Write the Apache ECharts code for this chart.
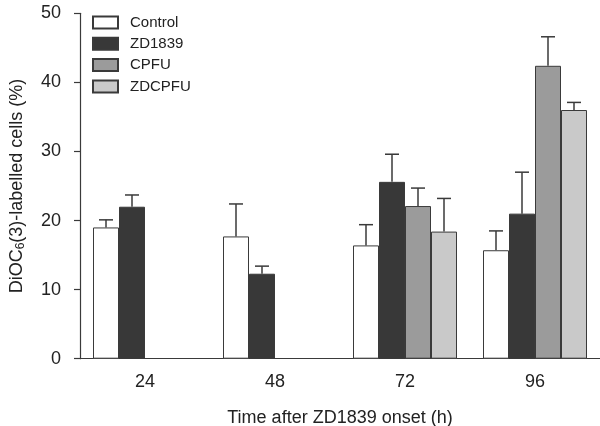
<!DOCTYPE html>
<html>
<head>
<meta charset="utf-8">
<script src="https://cdn.jsdelivr.net/npm/echarts@6/dist/echarts.min.js"></script>
<style>html,body{margin:0;padding:0;background:#fff}#c{width:600px;height:426px}</style>
</head>
<body>
<div id="c"></div>
<script>
const categories = ['24', '48', '72', '96'];
const seriesNames = ['Control', 'ZD1839', 'CPFU', 'ZDCPFU'];
const control = [19.0, 17.7, 16.4, 15.7];
const controlErr = [1.1, 4.7, 3.0, 2.8];
const zd1839 = [22.0, 12.3, 25.6, 21.0];
const zd1839Err = [1.7, 1.1, 4.0, 6.0];
const cpfu = [null, null, 22.1, 42.4];
const cpfuErr = [null, null, 2.6, 4.2];
const zdcpfu = [null, null, 18.4, 36.0];
const zdcpfuErr = [null, null, 4.8, 1.1];
const yTicks = [0, 10, 20, 30, 40, 50];

const values = [control, zd1839, cpfu, zdcpfu];
const errs = [controlErr, zd1839Err, cpfuErr, zdcpfuErr];
const colors = ['#ffffff', '#383838', '#9b9b9b', '#c9c9c9'];
const FONT = 'Liberation Sans, Arial, Helvetica, sans-serif';
const nSeries = 4;

const series = [];
values.forEach((vals, i) => {
  series.push({
    name: seriesNames[i],
    type: 'bar',
    data: vals,
    barGap: '0%',
    barCategoryGap: '20%',
    itemStyle: { color: colors[i], borderColor: '#3a3a3a', borderWidth: 1 },
    emphasis: { disabled: true }
  });
});
values.forEach((vals, i) => {
  const data = [];
  vals.forEach((v, k) => { if (v != null) data.push([k, v, v + errs[i][k]]); });
  series.push({
    type: 'custom',
    silent: true,
    z: 1,
    data: data,
    encode: { x: 0, y: [1, 2] },
    renderItem: function (params, api) {
      const base = api.coord([api.value(0), api.value(1)]);
      const top = api.coord([api.value(0), api.value(2)]);
      const band = api.size([1, 0])[0];
      const bw = band * 0.8 / nSeries;
      const cx = base[0] + (i - (nSeries - 1) / 2) * bw;
      const half = 7;
      const st = { stroke: '#3a3a3a', lineWidth: 1.5 };
      return {
        type: 'group',
        children: [
          { type: 'line', shape: { x1: cx, y1: base[1], x2: cx, y2: top[1] }, style: st },
          { type: 'line', shape: { x1: cx - half, y1: top[1], x2: cx + half, y2: top[1] }, style: st }
        ]
      };
    }
  });
});

const chart = echarts.init(document.getElementById('c'), null, { renderer: 'canvas' });
chart.setOption({
  animation: false,
  backgroundColor: '#ffffff',
  textStyle: { fontFamily: FONT },
  grid: { left: 80, right: 0, top: 13.3, bottom: 67.3, containLabel: false, outerBoundsMode: 'none' },
  legend: {
    data: seriesNames.map(n => ({ name: n, icon: 'rect' })),
    orient: 'vertical',
    left: 87,
    top: 10,
    itemWidth: 25,
    itemHeight: 12,
    itemGap: 6.3,
    selectedMode: false,
    textStyle: { fontFamily: FONT, fontSize: 15, color: '#222', lineHeight: 15, padding: [0, 0, 0, 7] }
  },
  xAxis: {
    type: 'category',
    data: categories,
    name: 'Time after ZD1839 onset (h)',
    nameLocation: 'middle',
    nameGap: 50,
    nameTextStyle: { fontFamily: FONT, fontSize: 18, color: '#222' },
    axisLine: { lineStyle: { color: '#3a3a3a', width: 1.2 } },
    axisTick: { show: false },
    axisLabel: { fontFamily: FONT, fontSize: 18, color: '#222', margin: 14 }
  },
  yAxis: {
    type: 'value',
    min: 0,
    max: 50,
    interval: 10,
    name: 'DiOC{sub|6}(3)-labelled cells (%)',
    nameLocation: 'middle',
    nameGap: 53,
    nameTextStyle: {
      fontFamily: FONT, fontSize: 18, color: '#222',
      rich: { sub: { fontFamily: FONT, fontSize: 12, color: '#222', verticalAlign: 'bottom', padding: [8, 0, 0, 0] } }
    },
    axisLine: { show: true, lineStyle: { color: '#3a3a3a', width: 1.2 } },
    axisTick: { show: true, inside: false, length: 6, lineStyle: { color: '#3a3a3a', width: 1.2 } },
    axisLabel: {
      fontFamily: FONT, fontSize: 18, color: '#222', margin: 19,
      formatter: function (v) { return yTicks.indexOf(v) >= 0 ? String(v) : ''; }
    },
    splitLine: { show: false }
  },
  series: series
});
</script>
</body>
</html>
